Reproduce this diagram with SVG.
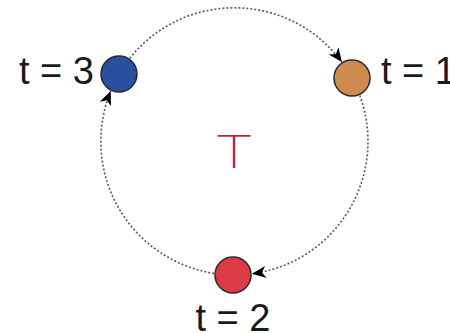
<svg xmlns="http://www.w3.org/2000/svg" width="450" height="333" viewBox="0 0 450 333">
<style>
.edge{fill:none;stroke:#606060;stroke-width:1.7;stroke-dasharray:2 2;}
.node{stroke:#2a2a2a;stroke-width:1.5;}
.lbl{font-family:"Liberation Sans",Arial,sans-serif;font-size:38px;fill:#1a1a1a;}
.big{font-family:Roboto,"Liberation Sans",sans-serif;font-weight:200;font-size:46px;fill:#c8202e;}
</style>
<defs>
<marker id="ah" markerUnits="userSpaceOnUse" markerWidth="16" markerHeight="14" refX="14" refY="6" orient="auto">
<path d="M0,0 L14,6 L0,12 L4,6 z" fill="#000"/>
</marker>
</defs>
<rect width="450" height="333" fill="#fff"/>
<g id="connectors">
<path class="edge" marker-end="url(#ah)" d="M129.8,58.2 A133.6,133.6 0 0 1 341.9,62.1"/>
<path class="edge" marker-end="url(#ah)" d="M359.8,95.4 A133.6,133.6 0 0 1 252.0,273.8"/>
<path class="edge" marker-end="url(#ah)" d="M214.1,273.4 A133.6,133.6 0 0 1 110.7,91.0"/>
</g>
<g id="center-label"><text class="big" x="216" y="168" textLength="36" lengthAdjust="spacingAndGlyphs">T</text></g>
<g id="node-t3">
<circle class="node" cx="119" cy="74" r="18" fill="#2b4f9f"/>
<text class="lbl" x="94" y="84" text-anchor="end">t = 3</text>
</g>
<g id="node-t1">
<circle class="node" cx="352" cy="78" r="18" fill="#cf8a4e"/>
<text class="lbl" x="381" y="84">t = 1</text>
</g>
<g id="node-t2">
<circle class="node" cx="233" cy="275" r="18" fill="#dd3a47"/>
<text class="lbl" x="233" y="331" text-anchor="middle">t = 2</text>
</g>
</svg>
